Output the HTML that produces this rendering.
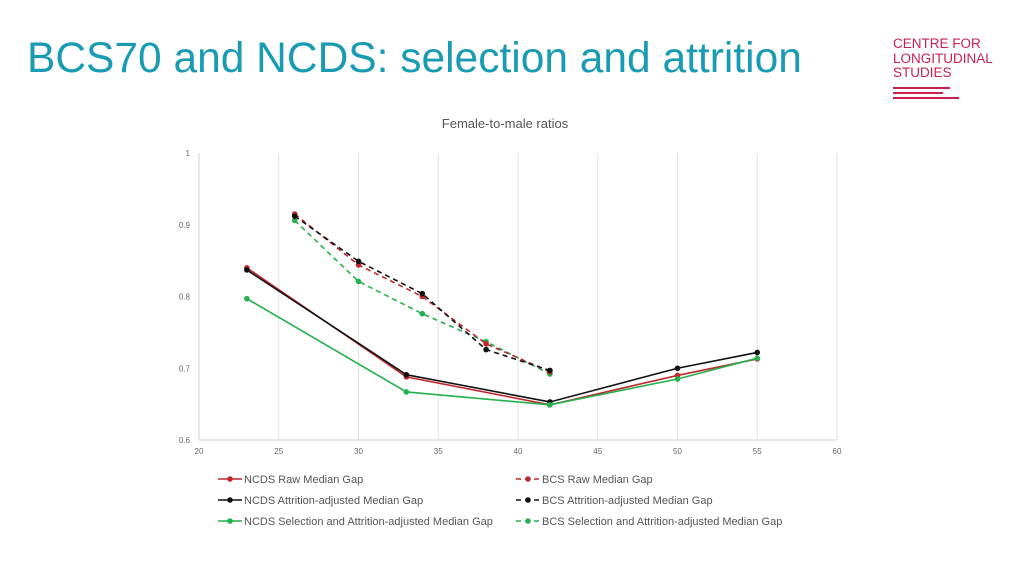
<!DOCTYPE html>
<html><head><meta charset="utf-8"><style>
body{margin:0;width:1024px;height:576px;background:#fff;overflow:hidden;font-family:"Liberation Sans",sans-serif;position:relative}
#title{position:absolute;left:27px;top:35px;font-size:42.5px;color:#1a9bb4;white-space:nowrap}
#logo{position:absolute;left:893px;top:37px;color:#c8214f;font-size:13.5px;line-height:14.5px}
.bar{position:absolute;height:2px;background:#c8214f;left:893px}
svg{position:absolute;left:0;top:0}
</style></head><body>
<div id="title">BCS70 and NCDS: selection and attrition</div>
<div id="logo">CENTRE FOR<br>LONGITUDINAL<br>STUDIES</div>
<div class="bar" style="top:87px;width:57px"></div>
<div class="bar" style="top:92px;width:50px"></div>
<div class="bar" style="top:97px;width:66px"></div>
<svg id="chart" width="1024" height="576"></svg>
<script>
const xTicks=[20,25,30,35,40,45,50,55,60];
const yTicks=[0.6,0.7,0.8,0.9,1];
const ncdsAges=[23,33,42,50,55];
const bcsAges=[26,30,34,38,42];
const ncdsRaw=[0.840,0.688,0.649,0.690,0.713];
const ncdsAttr=[0.837,0.691,0.653,0.700,0.722];
const ncdsSel=[0.797,0.667,0.649,0.685,0.714];
const bcsRaw=[0.915,0.844,0.800,0.734,0.695];
const bcsAttr=[0.912,0.849,0.804,0.726,0.697];
const bcsSel=[0.906,0.821,0.776,0.737,0.692];
const seriesNames=["NCDS Raw Median Gap","BCS Raw Median Gap","NCDS Attrition-adjusted Median Gap","BCS Attrition-adjusted Median Gap","NCDS Selection and Attrition-adjusted Median Gap","BCS Selection and Attrition-adjusted Median Gap"];
const NS="http://www.w3.org/2000/svg",svg=document.getElementById('chart');
const X=v=>199+(v-20)*(638/40), Y=v=>440-(v-0.6)*(287/0.4);
function mk(t,a,p){const e=document.createElementNS(NS,t);for(const k in a)e.setAttribute(k,a[k]);(p||svg).appendChild(e);return e;}
let t=mk('text',{x:505,y:128,'font-size':13,fill:'#555','text-anchor':'middle'});t.textContent='Female-to-male ratios';


xTicks.forEach(v=>{const l=mk('line',{x1:X(v),x2:X(v),y1:153,y2:440,stroke:v===20?'#d0d0d0':'#e2e2e2'});


const tx=mk('text',{x:X(v),y:454,'font-size':8,fill:'#666','text-anchor':'middle'});tx.textContent=v;

});
mk('line',{x1:199,x2:837,y1:440,y2:440,stroke:'#d0d0d0'});
yTicks.forEach(v=>{const tx=mk('text',{x:190,y:Y(v)+3,'font-size':8,fill:'#666','text-anchor':'end'});tx.textContent=v;

});
const defs=[[ncdsAges,ncdsRaw,'#c0282d',0],[ncdsAges,ncdsAttr,'#111',0],[ncdsAges,ncdsSel,'#22b14c',0],[bcsAges,bcsSel,'#22b14c',1],[bcsAges,bcsRaw,'#c0282d',1],[bcsAges,bcsAttr,'#111',1]];
defs.forEach(([xs,ys,c,d],i)=>{const pts=xs.map((x,j)=>X(x)+','+Y(ys[j])).join(' ');
const pl=mk('polyline',{points:pts,fill:'none',stroke:c,'stroke-width':1.6,'stroke-dasharray':d?'5,4':'none'});


xs.forEach((x,j)=>{const m=mk('circle',{cx:X(x),cy:Y(ys[j]),r:2.8,fill:c});

});});
const legColors=['#c0282d','#c0282d','#111','#111','#22b14c','#22b14c'];
seriesNames.forEach((n,i)=>{const col=i%2,row=Math.floor(i/2);const x0=col?516:218,y0=479+row*21;
const g=mk('g',{});


mk('line',{x1:x0,x2:x0+24,y1:y0,y2:y0,stroke:legColors[i],'stroke-width':1.6,'stroke-dasharray':col?'5,4':'none'},g);
mk('circle',{cx:x0+12,cy:y0,r:2.8,fill:legColors[i]},g);
const tx=mk('text',{x:x0+26,y:y0+4,'font-size':11,fill:'#555'},g);tx.textContent=n;});
</script>
</body></html>
